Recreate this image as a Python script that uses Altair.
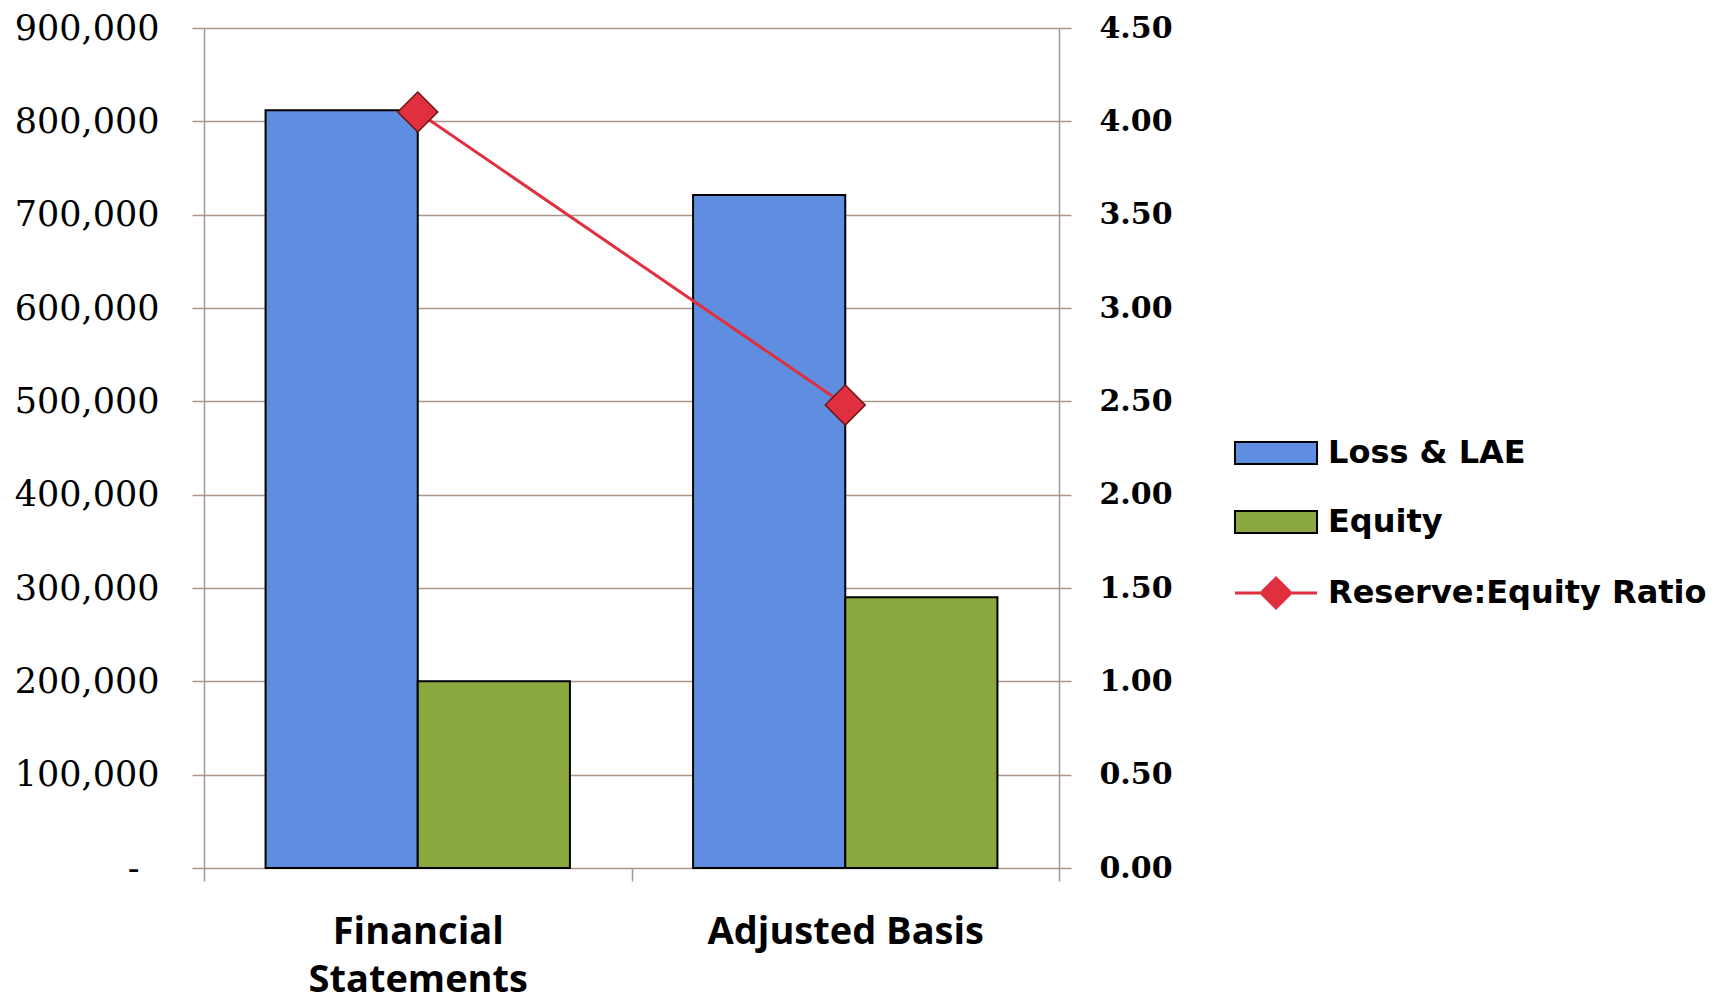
import altair as alt
import pandas as pd

# ---- data ----
categories = ["Financial Statements", "Adjusted Basis"]
series_names = ["Loss & LAE", "Equity"]
loss_lae = [812000, 721000]
equity = [200000, 290000]
ratio_name = "Reserve:Equity Ratio"
ratio = [4.05, 2.48]
left_ticks = [0, 100000, 200000, 300000, 400000, 500000, 600000, 700000, 800000, 900000]
right_ticks = [0.0, 0.5, 1.0, 1.5, 2.0, 2.5, 3.0, 3.5, 4.0, 4.5]

bars_df = pd.DataFrame({
    "category": categories + categories,
    "series": [series_names[0]] * len(categories) + [series_names[1]] * len(categories),
    "value": loss_lae + equity,
})
ratio_df = pd.DataFrame({
    "category": categories,
    "ratio_series": [ratio_name] * len(categories),
    "ratio": ratio,
})

BLUE = "#5f8ddf"
GREEN = "#8aa83f"
RED = "#e0303f"
DARKRED = "#6e1414"
GRID = "#a8968a"

RECT_PATH = "M-3.73,-1H3.73V1H-3.73Z"
LINE_PATH = "M-3.73,0H-1.36M1.36,0H3.73M0,-1.36L1.36,0L0,1.36L-1.36,0Z"

x_enc = alt.X(
    "category:N",
    sort=categories,
    scale=alt.Scale(paddingInner=0, paddingOuter=0),
    axis=alt.Axis(
        title=None, labelAngle=0, tickBand="extent", tickSize=13, tickColor=GRID,
        tickWidth=1.5, domain=False, grid=False,
        labelFont="Open Sans", labelFontWeight="bold", labelFontSize=38, labelColor="black",
        labelPadding=32, labelLineHeight=48, labelLimit=600,
        labelExpr="datum.label == 'Financial Statements' ? ['Financial', 'Statements'] : datum.label",
    ),
)

y_left = alt.Y(
    "value:Q",
    scale=alt.Scale(domain=[0, 900000], nice=False),
    axis=alt.Axis(
        title=None, values=left_ticks, grid=True, gridColor=GRID, gridWidth=1.5,
        domainColor=GRID, domainWidth=1.5, tickColor=GRID, tickWidth=1.5, tickSize=12,
        labelFont="DejaVu Serif", labelFontSize=35, labelColor="black",
        labelPadding={"condition": {"test": "datum.value == 0", "value": 53}, "value": 33},
        labelExpr="datum.value == 0 ? '-' : format(datum.value, ',')",
    ),
)

bars = alt.Chart(bars_df).mark_bar(stroke="black", strokeWidth=2).encode(
    x=x_enc,
    xOffset=alt.XOffset("series:N", sort=series_names,
                        scale=alt.Scale(paddingInner=0, paddingOuter=0.4046)),
    y=y_left,
    fill=alt.Fill(
        "series:N",
        scale=alt.Scale(domain=series_names, range=[BLUE, GREEN]),
        legend=alt.Legend(
            title=None, orient="none", legendX=1026, legendY=409,
            symbolType=RECT_PATH, symbolSize=484, symbolStrokeColor="black",
            symbolStrokeWidth=2, symbolOffset=30, labelOffset=36,
            labelFont="DejaVu Sans", labelFontWeight="bold", labelFontSize=32,
            labelColor="black", rowPadding=37, labelLimit=600,
        ),
    ),
)

y_right = alt.Y(
    "ratio:Q",
    scale=alt.Scale(domain=[0, 4.5], nice=False),
    axis=alt.Axis(
        title=None, orient="right", values=right_ticks, format=".2f", grid=False,
        domainColor=GRID, domainWidth=1.5, tickColor=GRID, tickWidth=1.5, tickSize=12,
        labelFont="DejaVu Serif", labelFontWeight="bold", labelFontSize=30,
        labelColor="black", labelPadding=28,
    ),
)

line = alt.Chart(ratio_df).mark_line(strokeWidth=3).encode(
    x=x_enc,
    y=y_right,
    stroke=alt.Stroke(
        "ratio_series:N",
        scale=alt.Scale(domain=[ratio_name], range=[RED]),
        legend=alt.Legend(
            title=None, orient="none", legendX=1026, legendY=549,
            symbolType=LINE_PATH, symbolSize=484, symbolStrokeWidth=3,
            symbolFillColor=RED, symbolOffset=30, labelOffset=36,
            labelFont="DejaVu Sans", labelFontWeight="bold", labelFontSize=32,
            labelColor="black", labelLimit=600,
        ),
    ),
)

points = alt.Chart(ratio_df).mark_point(
    shape="diamond", filled=True, size=1600, fill=RED, stroke=DARKRED,
    strokeWidth=1.5, opacity=1,
).encode(x=x_enc, y=y_right)

ratio_layer = alt.layer(line, points)

chart = alt.layer(bars, ratio_layer).resolve_scale(
    y="independent"
).properties(
    width=855, height=840,
    padding={"left": 204, "top": 28, "right": 665, "bottom": 137},
    autosize=alt.AutoSizeParams(type="none"),
    background="white",
).configure_view(stroke=None)

chart.save("out.html", embed_options={"renderer": "svg", "actions": False})
